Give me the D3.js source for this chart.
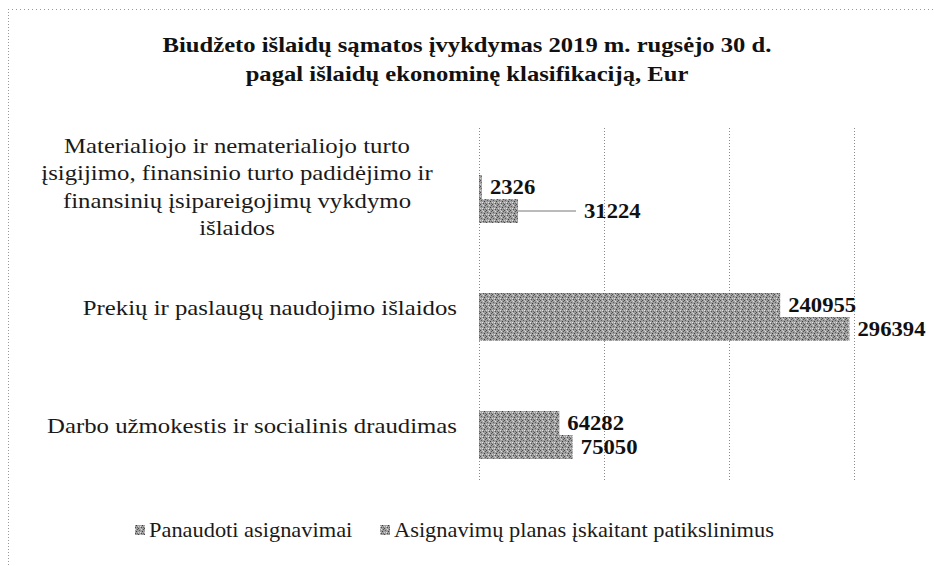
<!DOCTYPE html>
<html>
<head>
<meta charset="utf-8">
<script src="https://cdn.jsdelivr.net/npm/d3@7"></script>
<style>
  body { margin: 0; background: #fff; }
  svg { display: block; font-family: "Liberation Serif", "Times New Roman", serif; }
</style>
</head>
<body>
<svg id="chart" width="934" height="566"></svg>
<script>
// duomenys
const categories = [
  "Darbo užmokestis ir socialinis draudimas",
  "Prekių ir paslaugų naudojimo išlaidos",
  "Materialiojo ir nematerialiojo turto|įsigijimo, finansinio turto padidėjimo ir|finansinių įsipareigojimų vykdymo|išlaidos"
];
const seriesNames = ["Panaudoti asignavimai", "Asignavimų planas įskaitant patikslinimus"];
const used = [64282, 240955, 2326];
const planned = [75050, 296394, 31224];
const gridTicks = [0, 100000, 200000, 300000];
const titleLines = [
  "Biudžeto išlaidų sąmatos įvykdymas 2019 m. rugsėjo 30 d.",
  "pagal išlaidų ekonominę klasifikaciją, Eur"
];

const svg = d3.select("#chart");

// skenuotas tekstas šiek tiek ištemptas horizontaliai
const stretchText = (g, x, y, sx, txt) =>
  g.append("text")
    .attr("transform", `translate(${x},${y}) scale(${sx},1)`)
    .text(txt);

// pilkas "skenuotas" raštas stulpeliams
const defs = svg.append("defs");
const pat = defs.append("pattern")
  .attr("id", "grain")
  .attr("patternUnits", "userSpaceOnUse")
  .attr("width", 6).attr("height", 6);
pat.append("rect").attr("width", 6).attr("height", 6).attr("fill", "#9e9e9e");
const dots = [[0,0,"#4a4a4a"],[3,1,"#dcdcdc"],[1,2,"#5e5e5e"],[4,3,"#3c3c3c"],[2,4,"#e4e4e4"],
              [5,5,"#6a6a6a"],[0,4,"#d0d0d0"],[5,1,"#585858"],[2,0,"#c8c8c8"],[3,5,"#505050"]];
dots.forEach(([x, y, c]) => pat.append("rect").attr("x", x).attr("y", y)
  .attr("width", 1).attr("height", 1).attr("fill", c));

// rėmelis (taškinis, viršus ir kairė)
svg.append("line").attr("x1", 8).attr("x2", 934).attr("y1", 9.5).attr("y2", 9.5)
  .attr("stroke", "#999").attr("stroke-width", 1).attr("stroke-dasharray", "1,3");
svg.append("line").attr("x1", 8.5).attr("x2", 8.5).attr("y1", 9).attr("y2", 566)
  .attr("stroke", "#999").attr("stroke-width", 1).attr("stroke-dasharray", "1,2");

// pavadinimas
const titleG = svg.append("g")
  .attr("text-anchor", "middle")
  .attr("font-size", "22px").attr("font-weight", "bold")
  .attr("fill", "#111");
titleLines.forEach((t, i) => stretchText(titleG, 467, 52 + i * 29, 1.12, t));

const x = d3.scaleLinear().domain([0, 300000]).range([479, 854]);
const y = d3.scaleBand().domain(d3.range(categories.length)).range([482, 128]);
const barH = 24;
const barShift = 12;

// tinklelio linijos
svg.append("g").selectAll("line").data(gridTicks).enter().append("line")
  .attr("x1", (d) => x(d) + 0.5).attr("x2", (d) => x(d) + 0.5)
  .attr("y1", 128).attr("y2", 482)
  .attr("stroke", "#8a8a8a").attr("stroke-width", 1)
  .attr("stroke-dasharray", "1,2");

// kategorijų pavadinimai
const catG = svg.append("g").attr("font-size", "21px").attr("fill", "#1a1a1a");
categories.forEach((c, i) => {
  const lines = c.split("|");
  const cy = y(i) + y.bandwidth() / 2;
  const lh = 27.5;
  const multi = lines.length > 1;
  lines.forEach((ln, k) => {
    stretchText(catG, multi ? 237 : 457,
      cy + (multi ? 7 : 10) + (k - (lines.length - 1) / 2) * lh, 1.18, ln)
      .attr("text-anchor", multi ? "middle" : "end");
  });
});

// stulpeliai
const rows = categories.map((c, i) => ({ i, used: used[i], planned: planned[i] }));
const barsG = svg.append("g");
rows.forEach((r) => {
  const cy = y(r.i) + y.bandwidth() / 2 + barShift;
  [r.used, r.planned].forEach((v, s) => {
    barsG.append("rect")
      .attr("x", x(0))
      .attr("y", cy - barH + s * barH)
      .attr("width", x(v) - x(0))
      .attr("height", barH)
      .attr("fill", "url(#grain)");
  });
});

// reikšmių etiketės
const labelsG = svg.append("g").attr("font-size", "21px").attr("font-weight", "bold").attr("fill", "#111");
rows.forEach((r) => {
  const cy = y(r.i) + y.bandwidth() / 2 + barShift;
  [r.used, r.planned].forEach((v, s) => {
    const by = cy - barH / 2 + s * barH;
    let lx = x(v) + 8;
    // maža reikšmė šalia kitos etiketės – perkelta su jungiamąja linija
    if (s === 1 && x(v) - x(0) < 60) {
      const ex = x(v) + 66;
      labelsG.append("line")
        .attr("x1", x(v)).attr("x2", ex - 8)
        .attr("y1", by).attr("y2", by)
        .attr("stroke", "#777").attr("stroke-width", 1);
      lx = ex;
    }
    stretchText(labelsG, lx, by + 7, 1.08, v);
  });
});

// legenda
const legendX = [135, 380];
const legG = svg.append("g").attr("font-size", "20px").attr("fill", "#1a1a1a");
seriesNames.forEach((n, i) => {
  legG.append("rect").attr("x", legendX[i]).attr("y", 525)
    .attr("width", 10).attr("height", 10).attr("fill", "url(#grain)");
  stretchText(legG, legendX[i] + 14, 537, 1.12, n);
});
</script>
</body>
</html>
